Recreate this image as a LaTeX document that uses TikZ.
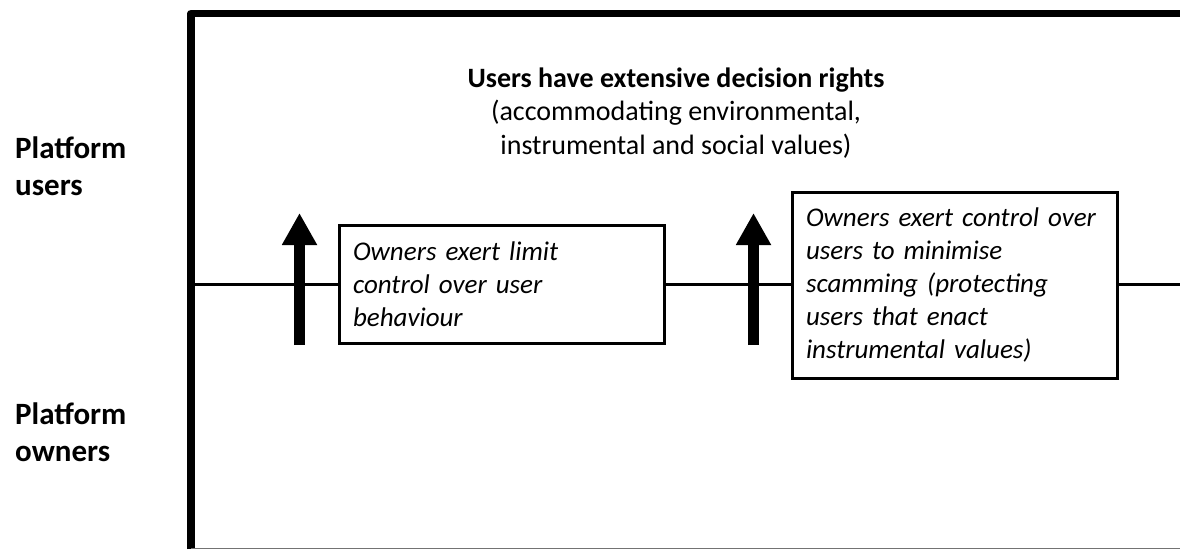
\documentclass[tikz,border=0pt]{standalone}
\usepackage{fontspec}
\setmainfont{Carlito}
\usetikzlibrary{arrows.meta}
\begin{document}
\begin{tikzpicture}[x=1pt,y=-1pt,
  frameline/.style={line width=7.5pt, line join=round},
  axisline/.style={line width=3pt},
  uparrow/.style={line width=11pt, -{Triangle[length=32pt,width=33pt]}},
  actbox/.style={draw, line width=3pt, fill=white, align=left, inner xsep=14pt, inner ysep=0pt,
    text width=297pt, font=\fontsize{27}{33}\selectfont\itshape},
  sidelabel/.style={anchor=base west, align=left, inner sep=0pt, font=\fontsize{31}{37}\selectfont\bfseries},
  titletext/.style={anchor=base, align=center, inner sep=0pt, font=\fontsize{28}{33.5}\selectfont}
]
\useasboundingbox (0,0) rectangle (1180,549);
% frame
\coordinate (fbl) at (191,549);
\coordinate (ftl) at (191,13.5);
\coordinate (ftr) at (1181,13.5);
\draw[frameline] (fbl) -- (ftl) -- (ftr);
\coordinate (bl) at (191,548.3);
\coordinate (br) at (1180,548.3);
\draw[line width=1.5pt, black!55] (bl) -- (br);
% axis line
\coordinate (hl) at (195,284);
\coordinate (hr) at (1180,284);
\draw[axisline] (hl) -- (hr);
% side labels (anchor = baseline of last line)
\node[sidelabel] (pu) at (15,195) {Platform\\users};
\node[sidelabel] (po) at (15,461) {Platform\\owners};
% title (anchor = baseline of last line)
\node[titletext] (title) at (676,154) {\textbf{Users have extensive decision rights}\\(accommodating environmental,\\instrumental and social values)};
% boxes
\node[actbox, minimum height=118pt] (b1) at (501.5,284) {Owners exert limit\\control over user\\behaviour};
\node[actbox, minimum height=186pt] (b2) at (954.5,285) {Owners exert control over\\users to minimise\\scamming (protecting\\users that enact\\instrumental values)};
% arrows
\coordinate (a1b) at (299.5,345);
\coordinate (a1t) at (299.5,213);
\coordinate (a2b) at (753.5,345);
\coordinate (a2t) at (753.5,213);
\draw[uparrow] (a1b) -- (a1t);
\draw[uparrow] (a2b) -- (a2t);
\end{tikzpicture}
\end{document}
